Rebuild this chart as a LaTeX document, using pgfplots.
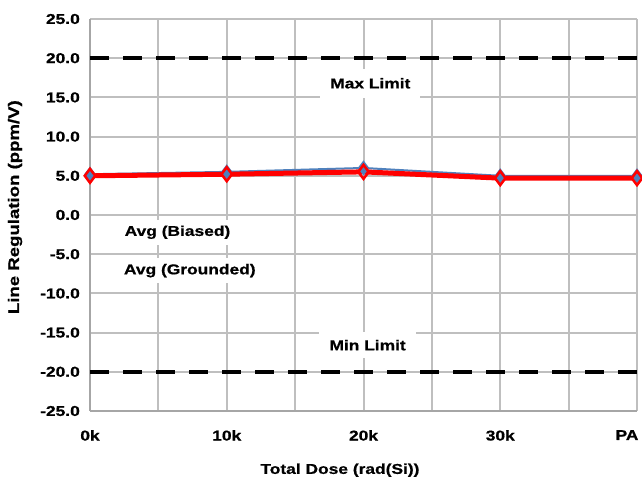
\documentclass[border=0pt]{standalone}
\usepackage{fontspec}
\setmainfont{Liberation Sans}[FakeStretch=1.22, FakeBold=0.8]
\usepackage{pgfplots}
\pgfplotsset{compat=1.18}
\definecolor{gridc}{RGB}{191,191,191}
\definecolor{axc}{RGB}{166,166,166}
\definecolor{bl}{RGB}{79,129,189}
\newcommand{\lf}{\bfseries\fontsize{14.3}{16}\selectfont}
\begin{document}
\begin{tikzpicture}
\begin{axis}[
  scale only axis, width=547bp, height=392bp,
  xmin=0, xmax=40, ymin=-25, ymax=25,
  xtick={0,5,...,40}, xticklabels={0k,,10k,,20k,,30k,,\makebox[0pt]{PA\hspace{20bp}}},
  ytick={-25,-20,...,25},
  yticklabels={-25.0,-20.0,-15.0,-10.0,-5.0,0.0,5.0,10.0,15.0,20.0,25.0},
  grid=major, major grid style={gridc, line width=2bp},
  axis lines*=left, axis line style={axc, line width=2.5bp, -},
  major tick length=0pt,
  tick label style={font=\lf},
  yticklabel style={anchor=east, inner sep=0pt, xshift=-10bp},
  xticklabel style={anchor=north, inner sep=0pt, yshift=-19bp},
  xlabel={Total Dose (rad(Si))}, ylabel={Line Regulation (ppm/V)},
  label style={font=\lf},
  xlabel style={at={(axis description cs:0.457,-0.151)}, anchor=center},
  ylabel style={at={(axis description cs:-0.137,0.52)}, anchor=center, font=\bfseries\fontsize{15.3}{17}\selectfont},
  clip=false,
]
\addplot[black, line width=4bp, dash pattern=on 19bp off 14bp] coordinates {(0,20) (40,20)};
\addplot[black, line width=4bp, dash pattern=on 19bp off 14bp] coordinates {(0,-20) (40,-20)};
\node[fill=white, font=\lf, inner xsep=10bp, inner ysep=9bp] at (axis cs:20.5,16.8) {Max Limit};
\node[fill=white, font=\lf, inner xsep=10bp, inner ysep=8bp] at (axis cs:20.3,-16.6) {Min Limit};
\node[fill=white, font=\lf, inner xsep=4bp, inner ysep=6bp] at (axis cs:6.4,-2.2) {Avg (Biased)};
\node[fill=white, font=\lf, inner xsep=4bp, inner ysep=6bp] at (axis cs:7.3,-7.1) {Avg (Grounded)};
\addplot[bl, line width=2bp, mark=diamond*, mark size=6bp, mark options={fill=bl, draw=bl}] coordinates {(0,5.2) (10,5.5) (20,6.0) (30,5.0) (40,5.0)};
\addplot[red, line width=5bp, mark=diamond, mark size=7bp, mark options={line width=2.5bp, fill=none, draw=red}] coordinates {(0,5.0) (10,5.2) (20,5.5) (30,4.7) (40,4.7)};
\end{axis}
\pgfresetboundingbox
\path[use as bounding box] ([shift={(-90bp,-76bp)}]current axis.south west) rectangle ([shift={(5bp,19bp)}]current axis.north east);
\end{tikzpicture}
\end{document}
